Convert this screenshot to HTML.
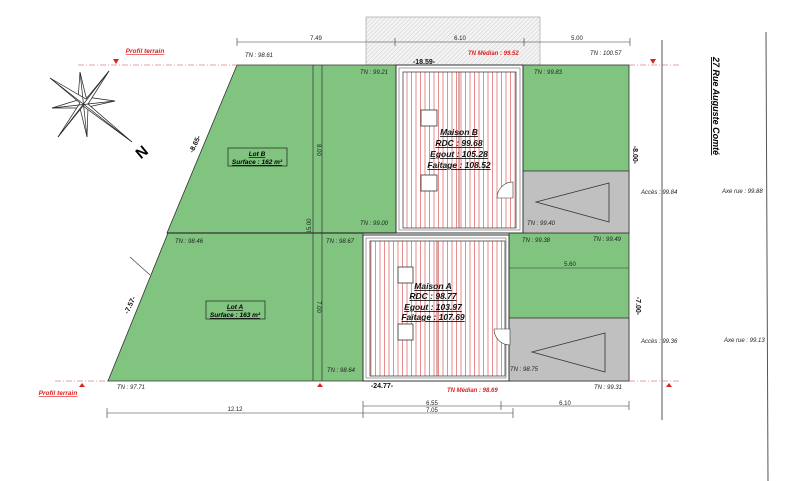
<!DOCTYPE html>
<html><head><meta charset="utf-8"><style>
html,body{margin:0;padding:0;background:#fff}
svg{display:block}
text{font-family:"Liberation Sans",sans-serif}
.tn{font-size:6px;font-style:italic;fill:#222}
.dm{font-size:6px;fill:#222}
.lb{font-size:8.5px;font-weight:bold;font-style:italic;text-decoration:underline;fill:#111}
.rd{font-size:6px;font-style:italic;font-weight:bold;fill:#d22}
</style></head><body>
<svg width="800" height="481" viewBox="0 0 800 481" xmlns="http://www.w3.org/2000/svg">
<defs>
<pattern id="hatch" width="3" height="3" patternUnits="userSpaceOnUse" patternTransform="rotate(45)">
<rect width="3" height="3" fill="#f4f4f4"/><line x1="0" y1="0" x2="0" y2="3" stroke="#ccc" stroke-width="1"/></pattern>
<pattern id="rl" width="4.5" height="10" patternUnits="userSpaceOnUse">
<rect width="4.5" height="10" fill="#fff"/><line x1="2" y1="0" x2="2" y2="10" stroke="#e07070" stroke-width="0.8"/></pattern>
</defs>
<rect x="366" y="17" width="174" height="48" fill="url(#hatch)" stroke="#999" stroke-width="0.6"/>
<polygon points="237,65 396,65 396,233 167,233" fill="#80c480" stroke="#333" stroke-width="0.8"/>
<polygon points="168,233 363,233 363,381 108,381" fill="#80c480" stroke="#333" stroke-width="0.8"/>
<rect x="523" y="65" width="106" height="168" fill="#80c480" stroke="#333" stroke-width="0.8"/>
<rect x="509" y="233" width="120" height="148" fill="#80c480" stroke="#333" stroke-width="0.8"/>
<rect x="518" y="171" width="111" height="62" fill="#c0c0c0" stroke="#333" stroke-width="0.8"/>
<rect x="501" y="318" width="128" height="63" fill="#c0c0c0" stroke="#333" stroke-width="0.8"/>
<polygon points="536,202 609,183 609,222" fill="none" stroke="#333" stroke-width="0.8"/>
<polygon points="532,352 605,333 605,372" fill="none" stroke="#333" stroke-width="0.8"/>
<line x1="313" y1="65" x2="313" y2="381" stroke="#333" stroke-width="0.7"/>
<line x1="322" y1="65" x2="322" y2="381" stroke="#333" stroke-width="0.7"/>
<line x1="167" y1="233" x2="396" y2="233" stroke="#333" stroke-width="1.2"/>
<!-- houses -->
<rect x="396" y="65" width="127" height="168" fill="#fff" stroke="#333" stroke-width="1"/>
<rect x="399" y="68" width="121" height="162" fill="none" stroke="#666" stroke-width="0.6"/>
<rect x="403" y="72" width="113" height="156" fill="url(#rl)" stroke="#444" stroke-width="0.8"/>
<line x1="459" y1="72" x2="459" y2="228" stroke="#a33" stroke-width="0.8"/>
<rect x="421" y="110" width="16" height="16" fill="#fff" stroke="#333" stroke-width="0.8"/>
<rect x="421" y="175" width="16" height="16" fill="#fff" stroke="#333" stroke-width="0.8"/>
<rect x="363" y="235" width="146" height="146" fill="#fff" stroke="#333" stroke-width="1"/>
<rect x="366" y="238" width="140" height="140" fill="none" stroke="#666" stroke-width="0.6"/>
<rect x="370" y="241" width="135" height="135" fill="url(#rl)" stroke="#444" stroke-width="0.8"/>
<line x1="437" y1="241" x2="437" y2="376" stroke="#a33" stroke-width="0.8"/>
<rect x="398" y="267" width="15" height="16" fill="#fff" stroke="#333" stroke-width="0.8"/>
<rect x="398" y="324" width="15" height="16" fill="#fff" stroke="#333" stroke-width="0.8"/>
<path d="M513,182 a16,16 0 0 0 -16,16 h16 z" fill="#fff" stroke="#333" stroke-width="0.6"/>
<path d="M494,329 a16,16 0 0 0 16,16 v-16 z" fill="#fff" stroke="#333" stroke-width="0.6"/>
<text class="lb" x="459" y="135" text-anchor="middle">Maison B</text>
<text class="lb" x="459" y="146" text-anchor="middle">RDC : 99.68</text>
<text class="lb" x="459" y="157" text-anchor="middle">Egout : 105.28</text>
<text class="lb" x="459" y="168" text-anchor="middle">Faitage : 108.52</text>
<text class="lb" x="433" y="289" text-anchor="middle">Maison A</text>
<text class="lb" x="433" y="299" text-anchor="middle">RDC : 98.77</text>
<text class="lb" x="433" y="310" text-anchor="middle">Egout : 103.97</text>
<text class="lb" x="433" y="320" text-anchor="middle">Faitage : 107.69</text>
<rect x="228" y="148" width="59" height="18" fill="none" stroke="#222" stroke-width="0.7"/>
<text x="257" y="156" text-anchor="middle" style="font-size:6.5px;font-weight:bold;font-style:italic;text-decoration:underline">Lot B</text>
<text x="257" y="164" text-anchor="middle" style="font-size:6.5px;font-weight:bold;font-style:italic;text-decoration:underline">Surface : 162 m²</text>
<rect x="206" y="301" width="59" height="18" fill="none" stroke="#222" stroke-width="0.7"/>
<text x="235" y="309" text-anchor="middle" style="font-size:6.5px;font-weight:bold;font-style:italic;text-decoration:underline">Lot A</text>
<text x="235" y="317" text-anchor="middle" style="font-size:6.5px;font-weight:bold;font-style:italic;text-decoration:underline">Surface : 163 m²</text>
<line x1="78" y1="65" x2="237" y2="65" stroke="#c44" stroke-width="0.6" stroke-dasharray="6,2,1,2"/>
<line x1="629" y1="65" x2="680" y2="65" stroke="#c44" stroke-width="0.6" stroke-dasharray="6,2,1,2"/>
<line x1="55" y1="381" x2="108" y2="381" stroke="#c44" stroke-width="0.6" stroke-dasharray="6,2,1,2"/>
<line x1="629" y1="381" x2="680" y2="381" stroke="#c44" stroke-width="0.6" stroke-dasharray="6,2,1,2"/>
<text x="145" y="53" text-anchor="middle" style="font-size:6.5px;font-weight:bold;font-style:italic;fill:#d22;text-decoration:underline">Profil terrain</text>
<text x="58" y="395" text-anchor="middle" style="font-size:6.5px;font-weight:bold;font-style:italic;fill:#d22;text-decoration:underline">Profil terrain</text>
<polygon points="113,59 119,59 116,64" fill="#d22"/>
<polygon points="650,59 656,59 653,64" fill="#d22"/>
<polygon points="83,99 89,99 86,104" fill="#d22"/>
<polygon points="79,387 85,387 82,383" fill="#d22"/>
<polygon points="317,387 323,387 320,383" fill="#d22"/>
<polygon points="666,387 672,387 669,383" fill="#d22"/>
<line x1="662" y1="40" x2="662" y2="420" stroke="#555" stroke-width="1"/>
<line x1="766" y1="32" x2="768" y2="481" stroke="#555" stroke-width="1"/>
<text x="713" y="57" transform="rotate(90 713 57)" style="font-size:9px;font-weight:bold;font-style:italic;text-decoration:underline">27 Rue Auguste Comté</text>
<g stroke="#333" stroke-width="0.6">
<line x1="237" y1="42" x2="630" y2="42"/>
<line x1="237" y1="38" x2="237" y2="46"/><line x1="395" y1="38" x2="395" y2="46"/><line x1="524" y1="38" x2="524" y2="46"/><line x1="630" y1="38" x2="630" y2="46"/>
<line x1="107" y1="413" x2="513" y2="413"/>
<line x1="363" y1="406" x2="629" y2="406"/>
<line x1="107" y1="408" x2="107" y2="418"/><line x1="363" y1="401" x2="363" y2="418"/><line x1="501" y1="401" x2="501" y2="410"/><line x1="513" y1="408" x2="513" y2="418"/><line x1="629" y1="401" x2="629" y2="410"/>
<line x1="509" y1="268" x2="629" y2="268"/>
<line x1="130" y1="257" x2="150" y2="275"/>
</g>
<g class="dm">
<text x="316" y="40" text-anchor="middle">7.49</text>
<text x="460" y="40" text-anchor="middle">6.10</text>
<text x="577" y="40" text-anchor="middle">5.00</text>
<text x="235" y="411" text-anchor="middle">12.12</text>
<text x="432" y="405" text-anchor="middle">6.55</text>
<text x="432" y="412" text-anchor="middle">7.05</text>
<text x="565" y="405" text-anchor="middle">6.10</text>
<text x="570" y="266" text-anchor="middle">5.60</text>
<text x="317" y="150" transform="rotate(90 317 150)" text-anchor="middle">8.00</text>
<text x="311" y="226" transform="rotate(-90 311 226)" text-anchor="middle">15.00</text>
<text x="317" y="307" transform="rotate(90 317 307)" text-anchor="middle">7.00</text>
</g>
<g style="font-size:7px;font-weight:bold;fill:#111">
<text x="424" y="64" text-anchor="middle">-18.59-</text>
<text x="382" y="388" text-anchor="middle">-24.77-</text>
<text x="633" y="155" transform="rotate(90 633 155)" text-anchor="middle">-8.00-</text>
<text x="636" y="306" transform="rotate(90 636 306)" text-anchor="middle">-7.00-</text>
<text x="197" y="145" transform="rotate(-65 197 145)" text-anchor="middle">-8.65-</text>
<text x="132" y="306" transform="rotate(-65 132 306)" text-anchor="middle">-7.57-</text>
</g>
<g class="tn">
<text x="245" y="57">TN : 98.61</text>
<text x="360" y="74">TN : 99.21</text>
<text x="534" y="74">TN : 99.83</text>
<text x="590" y="55">TN : 100.57</text>
<text x="360" y="225">TN : 99.00</text>
<text x="527" y="225">TN : 99.40</text>
<text x="522" y="242">TN : 99.38</text>
<text x="593" y="241">TN : 99.49</text>
<text x="175" y="243">TN : 98.46</text>
<text x="326" y="243">TN : 98.67</text>
<text x="327" y="372">TN : 98.64</text>
<text x="117" y="389">TN : 97.71</text>
<text x="510" y="371">TN : 98.75</text>
<text x="594" y="389">TN : 99.31</text>
<text x="641" y="194">Accès : 99.84</text>
<text x="641" y="343">Accès : 99.36</text>
<text x="722" y="193">Axe rue : 99.88</text>
<text x="724" y="342">Axe rue : 99.13</text>
</g>
<text class="rd" x="468" y="55">TN Médian : 99.52</text>
<text class="rd" x="447" y="392">TN Médian : 98.69</text>
<g fill="#fff" stroke="#222" stroke-width="0.7">
<polygon points="80,72 86,97 115,101 88,107 87,137 80,108 52,108 78,100"/>
<polygon points="50,78 86,99 109,71 88,104 132,142 83,106 58,137 80,103"/>
<line x1="50" y1="78" x2="132" y2="142"/><line x1="109" y1="71" x2="58" y2="137"/>
<line x1="80" y1="72" x2="87" y2="137"/><line x1="52" y1="108" x2="115" y2="101"/>
</g>
<text x="145" y="156" transform="rotate(-40 145 156)" text-anchor="middle" style="font-size:15px;font-weight:bold">N</text>
</svg>
</body></html>
